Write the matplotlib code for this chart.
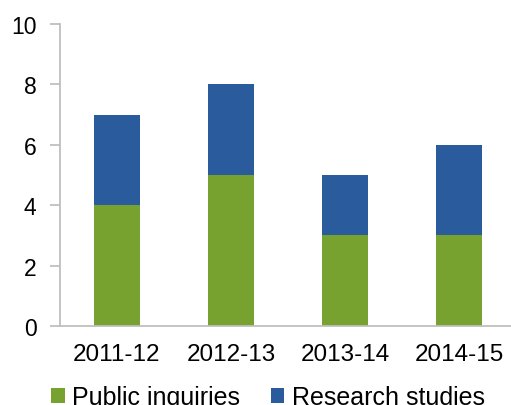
import matplotlib.pyplot as plt
import numpy as np

years = ["2011-12", "2012-13", "2013-14", "2014-15"]
public_inquiries = [4, 5, 3, 3]
research_studies = [3, 3, 2, 3]

plt.rcParams["font.family"] = ["Liberation Sans", "DejaVu Sans"]

fig = plt.figure(figsize=(5.11, 4.06), dpi=100)
ax = fig.add_axes([60 / 511, 79 / 406, 456 / 511, 302 / 406])

x = np.arange(len(years))
width = 0.4
ax.bar(x, public_inquiries, width, color="#78A22F", label="Public inquiries")
ax.bar(x, research_studies, width, bottom=public_inquiries, color="#2A5B9C", label="Research studies")

ax.set_xlim(-0.5, 3.5)
ax.set_ylim(0, 10)
ax.set_yticks(range(0, 11, 2))
ax.set_xticks(x)
ax.set_xticklabels(years)

for side in ["top", "right"]:
    ax.spines[side].set_visible(False)
for side in ["left", "bottom"]:
    ax.spines[side].set_color("#BFBFBF")
    ax.spines[side].set_linewidth(1.3)

ax.tick_params(axis="y", length=7, width=1.3, color="#BFBFBF", labelsize=16.5, pad=10)
ax.tick_params(axis="x", length=0, labelsize=17.5, pad=12)

ax.legend(loc="center", bbox_to_anchor=(0.5 - 20 / 456, -0.236), ncol=2, frameon=False,
          fontsize=18, handlelength=0.55, handleheight=0.55, handletextpad=0.3, columnspacing=1.2,
          borderpad=0, borderaxespad=0)

fig.savefig("out.png", dpi=100)
